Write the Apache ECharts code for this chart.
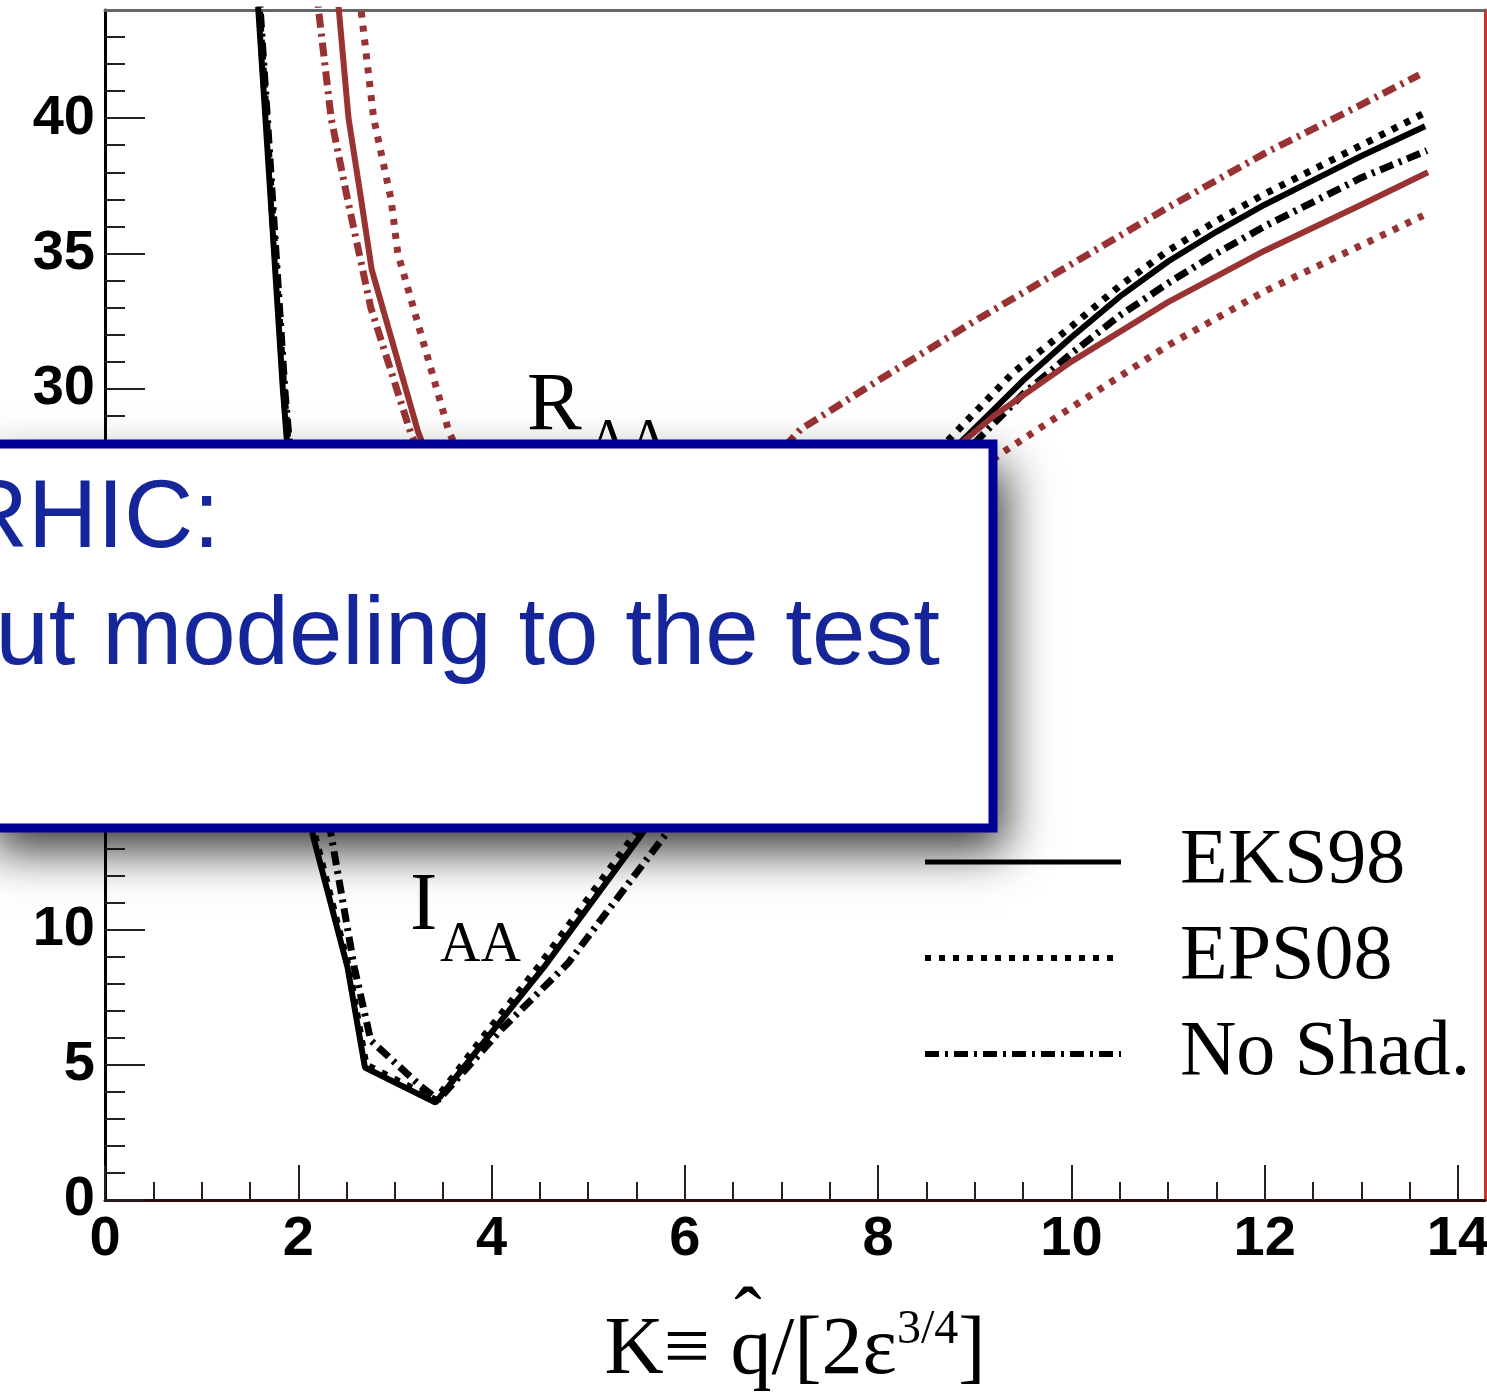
<!DOCTYPE html>
<html>
<head>
<meta charset="utf-8">
<script src="https://cdn.jsdelivr.net/npm/echarts@6/dist/echarts.min.js"></script>
<style>
  body { margin: 0; background: #fff; }
  #main { width: 1487px; height: 1398px; }
</style>
</head>
<body>
<div id="main"></div>
<script>
// tick labels
var xMajor = [0, 2, 4, 6, 8, 10, 12, 14];
var yMajor = [0, 5, 10, 15, 20, 25, 30, 35, 40];

// I_AA, black curves
var iaaEksK = [1.55, 1.66, 1.75, 1.84, 1.95, 2.05, 2.15, 2.51, 2.69, 3.42, 4.00, 4.54, 5.59, 6.50, 7.50, 8.20, 8.85, 9.50, 10.0, 10.5, 11.0, 11.5, 12.0, 12.5, 13.0, 13.66];
var iaaEksV = [46, 40, 35, 30, 25, 20, 13.5, 8.6, 4.9, 3.6, 6.2, 8.6, 13.7, 17.9, 22.3, 25.3, 28.0, 30.3, 31.9, 33.4, 34.7, 35.8, 36.8, 37.7, 38.6, 39.7];
var iaaEpsK = [1.56, 1.67, 1.76, 1.85, 1.96, 2.06, 2.17, 2.52, 2.70, 3.42, 3.95, 4.48, 5.52, 6.45, 7.40, 8.10, 8.70, 9.40, 10.0, 10.5, 11.0, 11.5, 12.0, 12.5, 13.0, 13.66];
var iaaEpsV = [46, 40, 35, 30, 25, 20, 13.5, 8.6, 5.0, 3.7, 6.2, 8.6, 13.7, 18.0, 22.4, 25.4, 28.0, 30.6, 32.3, 33.8, 35.1, 36.2, 37.2, 38.1, 39.0, 40.2];
var iaaNoShK = [1.57, 1.68, 1.77, 1.86, 1.98, 2.10, 2.33, 2.58, 2.75, 3.27, 3.45, 4.10, 4.79, 5.84, 6.80, 7.70, 8.40, 9.00, 9.50, 10.0, 10.5, 11.0, 11.5, 12.0, 12.5, 13.0, 13.68];
var iaaNoShV = [46, 40, 35, 30, 25, 20, 13.7, 8.6, 5.9, 4.2, 3.7, 6.3, 8.75, 13.7, 18.0, 22.0, 25.2, 28.0, 29.8, 31.3, 32.7, 33.9, 35.0, 36.0, 36.9, 37.8, 38.8];

// R_AA, red curves
var raaEksK = [2.37, 2.42, 2.52, 2.65, 2.76, 3.24, 3.60, 4.20, 5.00, 6.00, 7.00, 8.00, 8.80, 9.20, 10.0, 11.0, 12.0, 13.0, 13.69];
var raaEksV = [46, 44, 40, 37, 34.4, 28.4, 25.0, 22.8, 21.5, 21.8, 23.3, 25.6, 27.8, 29.0, 31.0, 33.2, 35.1, 36.8, 38.0];
var raaEpsK = [2.60, 2.65, 2.78, 2.96, 3.03, 3.56, 4.00, 4.80, 5.60, 6.50, 7.50, 8.50, 9.27, 10.0, 11.0, 12.0, 13.0, 13.64];
var raaEpsV = [46, 44, 40, 37, 35, 28.4, 25.0, 22.5, 21.5, 21.8, 23.2, 25.5, 27.6, 29.3, 31.6, 33.6, 35.3, 36.4];
var raaNoShK = [2.17, 2.21, 2.34, 2.51, 2.63, 2.75, 3.16, 3.60, 4.20, 5.00, 5.80, 6.50, 7.20, 8.00, 9.00, 10.0, 11.0, 12.0, 13.0, 13.60];
var raaNoShV = [46, 44, 40, 37, 35, 33, 28.4, 24.5, 22.5, 22.0, 23.3, 25.8, 28.5, 30.3, 32.5, 34.6, 36.7, 38.7, 40.5, 41.6];

var RED = '#993333';
var DOT = [6, 8];
var DASHDOT = [14, 6, 3, 6];

function pts(k, v) {
    var out = [];
    for (var i = 0; i < k.length; i++) out.push([k[i], v[i]]);
    return out;
}

// minor tick positions (between the labelled ones)
var xMinor = [], yMinor = [];
for (var i = 1; i <= 28; i++) if (i % 4 != 0) xMinor.push(i * 0.5);
for (var j = 1; j <= 43; j++) if (j % 5 != 0) yMinor.push(j);

function line(name, k, v, color, type, width) {
    return {
        name: name,
        type: 'line',
        data: pts(k, v),
        symbol: 'none',
        showSymbol: false,
        color: color,
        lineStyle: { color: color, width: width, type: type, cap: 'butt' },
        emphasis: { disabled: true },
        silent: true,
        z: 2
    };
}

function legendItem(name, type, width) {
    return {
        name: name,
        itemStyle: { opacity: 0, color: 'transparent', borderWidth: 0 },
        lineStyle: { color: '#000', width: width, type: type, cap: 'butt' }
    };
}

var myChart = echarts.init(document.getElementById('main'));

var labelFont = { fontFamily: 'Liberation Sans', fontWeight: 'bold', fontSize: 56, color: '#000' };
var textMid = { verticalAlign: 'middle', textVerticalAlign: 'middle' };

var option = {
    animation: false,
    backgroundColor: '#fff',
    grid: {
        left: 105, right: 2, top: 10, bottom: 198,
        show: false,
        outerBoundsMode: 'none'
    },
    legend: {
        data: [legendItem('EKS98', 'solid', 5), legendItem('EPS08', DOT, 6), legendItem('No Shad.', DASHDOT, 6)],
        orient: 'vertical',
        left: 922, top: 822, padding: 0,
        itemWidth: 196, itemHeight: 20, itemGap: 16,
        selectedMode: false,
        textStyle: {
            fontFamily: 'Liberation Serif', fontSize: 78, lineHeight: 80,
            color: '#000', padding: [0, 0, 0, 54]
        }
    },
    xAxis: [
        {
            type: 'value', min: 0, max: 14.28,
            axisLine: { show: true, onZero: false, lineStyle: { color: '#2a0a0a', width: 3 } },
            axisTick: { show: true, inside: true, length: 35, customValues: xMajor, lineStyle: { color: '#222', width: 2 } },
            axisLabel: Object.assign({ customValues: xMajor, margin: 12 }, labelFont),
            splitLine: { show: false }
        },
        {
            type: 'value', min: 0, max: 14.28, position: 'top',
            axisLine: { show: true, onZero: false, lineStyle: { color: '#666', width: 3 } },
            axisTick: { show: false }, axisLabel: { show: false }, splitLine: { show: false }
        },
        {
            type: 'value', min: 0, max: 14.28, position: 'bottom',
            axisLine: { show: false, onZero: false },
            axisTick: { show: true, inside: true, length: 18, customValues: xMinor, lineStyle: { color: '#222', width: 2 } },
            axisLabel: { show: false }, splitLine: { show: false }
        }
    ],
    yAxis: [
        {
            type: 'value', min: 0, max: 44,
            axisLine: { show: true, onZero: false, lineStyle: { color: '#000', width: 3 } },
            axisTick: { show: true, inside: true, length: 40, customValues: yMajor, lineStyle: { color: '#222', width: 2 } },
            axisLabel: Object.assign({ customValues: yMajor, margin: 10 }, labelFont),
            splitLine: { show: false }
        },
        {
            type: 'value', min: 0, max: 44, position: 'left',
            axisLine: { show: false, onZero: false },
            axisTick: { show: true, inside: true, length: 20, customValues: yMinor, lineStyle: { color: '#222', width: 2 } },
            axisLabel: { show: false }, splitLine: { show: false }
        },
        {
            type: 'value', min: 0, max: 44, position: 'right',
            axisLine: { show: true, onZero: false, lineStyle: { color: '#c33', width: 3 } },
            axisTick: { show: false }, axisLabel: { show: false }, splitLine: { show: false }
        }
    ],
    series: [
        line('EKS98', iaaEksK, iaaEksV, '#000', 'solid', 6),
        line('EPS08', iaaEpsK, iaaEpsV, '#000', DOT, 7),
        line('No Shad.', iaaNoShK, iaaNoShV, '#000', DASHDOT, 7),
        line('EKS98 RAA', raaEksK, raaEksV, RED, 'solid', 6),
        line('EPS08 RAA', raaEpsK, raaEpsV, RED, DOT, 7),
        line('No Shad. RAA', raaNoShK, raaNoShV, RED, DASHDOT, 7)
    ],
    graphic: [
        // curve labels
        { type: 'text', x: 527, y: 407, z: 10, style: Object.assign({ text: 'R', fontFamily: 'Liberation Serif', fontSize: 82, fill: '#000' }, textMid) },
        { type: 'text', x: 588, y: 443, z: 10, style: Object.assign({ text: 'AA', fontFamily: 'Liberation Serif', fontSize: 56, fill: '#000' }, textMid) },
        { type: 'text', x: 410, y: 907, z: 10, style: Object.assign({ text: 'I', fontFamily: 'Liberation Serif', fontSize: 82, fill: '#000' }, textMid) },
        { type: 'text', x: 440, y: 946, z: 10, style: Object.assign({ text: 'AA', fontFamily: 'Liberation Serif', fontSize: 56, fill: '#000' }, textMid) },
        // x axis title
        {
            type: 'text', x: 795, y: 1351, z: 10,
            style: {
                text: '{a|K\u2261 q/[2\u03b5}{b|3/4}{a|]}',
                align: 'center', textAlign: 'center', verticalAlign: 'middle', textVerticalAlign: 'middle',
                fill: '#000',
                rich: {
                    a: { fontFamily: 'Liberation Serif', fontSize: 82, lineHeight: 90, fill: '#000' },
                    b: { fontFamily: 'Liberation Serif', fontSize: 48, lineHeight: 54, verticalAlign: 'top', fill: '#000' }
                }
            }
        },
        { type: 'text', x: 748, y: 1322, z: 10, style: { text: '\u02c6', fontFamily: 'Liberation Serif', fontSize: 82, fill: '#000', align: 'center', textAlign: 'center', verticalAlign: 'middle', textVerticalAlign: 'middle' } },
        // overlay box from the slide: shadow layer, then the framed box
        {
            type: 'rect', z: 100,
            shape: { x: -20, y: 444, width: 1013, height: 384 },
            style: {
                fill: '#fff',
                shadowBlur: 45, shadowOffsetX: 12, shadowOffsetY: 22, shadowColor: 'rgba(0,0,0,0.8)'
            }
        },
        {
            type: 'rect', z: 101,
            shape: { x: -20, y: 444, width: 1013, height: 384 },
            style: { fill: '#fff', stroke: '#000099', lineWidth: 9 }
        },
        { type: 'text', x: 220, y: 521, z: 102, style: { text: 'RHIC:', fontFamily: 'Liberation Sans', fontSize: 96, fill: '#15259a', align: 'right', textAlign: 'right', verticalAlign: 'middle', textVerticalAlign: 'middle' } },
        { type: 'text', x: 940, y: 638, z: 102, style: { text: 'ut modeling to the test', fontFamily: 'Liberation Sans', fontSize: 96, fill: '#15259a', align: 'right', textAlign: 'right', verticalAlign: 'middle', textVerticalAlign: 'middle' } }
    ]
};

myChart.setOption(option);
</script>
</body>
</html>
